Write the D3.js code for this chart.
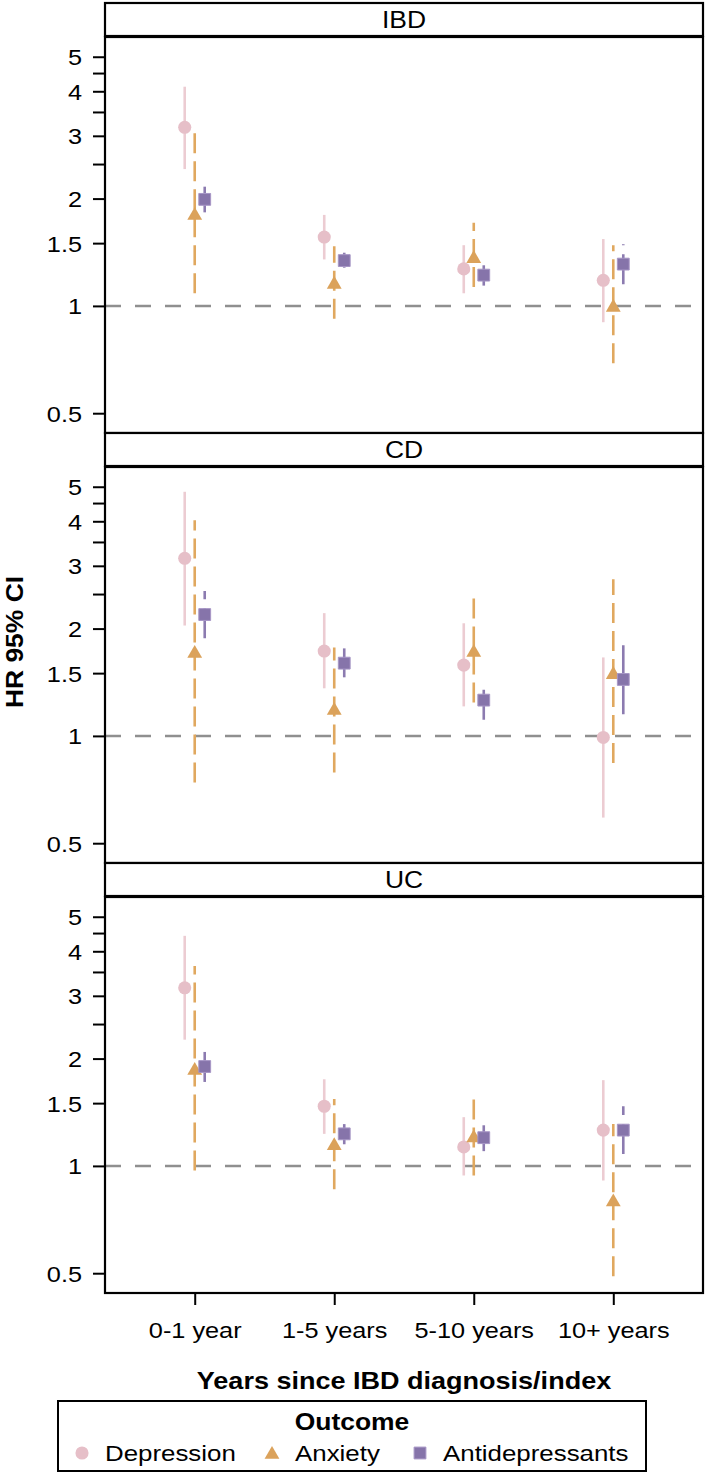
<!DOCTYPE html>
<html><head><meta charset="utf-8">
<script src="https://cdn.jsdelivr.net/npm/d3@7"></script>
<style>
body{margin:0;background:#fff;}
svg{display:block;}
text{font-family:"Liberation Sans",Arial,sans-serif;fill:#000;}
</style></head>
<body>
<svg id="chart" width="708" height="1474"></svg>
<script>
// ---- data ----
const categories = ["0-1 year","1-5 years","5-10 years","10+ years"];
const panels = ["IBD","CD","UC"];
const outcomes = ["Depression","Anxiety","Antidepressants"];
const yTickValues = [0.5,1,1.5,2,3,4,5];
const yMinorTicks = [2.5,3.5,4.5];

// IBD
const ibdDepHR = [3.17,1.56,1.27,1.18], ibdDepLo = [2.42,1.35,1.085,0.90], ibdDepHi = [4.12,1.80,1.48,1.54];
const ibdAnxHR = [1.81,1.16,1.37,1.00], ibdAnxLo = [1.085,0.92,1.13,0.69], ibdAnxHi = [3.08,1.47,1.71,1.48];
const ibdAdHR  = [1.99,1.34,1.22,1.31], ibdAdLo  = [1.83,1.28,1.14,1.15], ibdAdHi  = [2.16,1.41,1.30,1.49];
// CD
const cdDepHR = [3.15,1.73,1.58,0.99], cdDepLo = [2.04,1.36,1.21,0.59], cdDepHi = [4.84,2.21,2.07,1.66];
const cdAnxHR = [1.72,1.19,1.73,1.50], cdAnxLo = [0.74,0.79,1.24,0.84], cdAnxHi = [4.03,1.77,2.46,2.75];
const cdAdHR  = [2.19,1.60,1.26,1.44], cdAdLo  = [1.88,1.46,1.11,1.15], cdAdHi  = [2.55,1.76,1.42,1.80];
// UC
const ucDepHR = [3.16,1.47,1.13,1.26], ucDepLo = [2.26,1.23,0.94,0.91], ucDepHi = [4.42,1.75,1.37,1.74];
const ucAnxHR = [1.87,1.15,1.21,0.80], ucAnxLo = [0.97,0.86,0.94,0.49], ucAnxHi = [3.64,1.54,1.59,1.31];
const ucAdHR  = [1.90,1.23,1.20,1.26], ucAdLo  = [1.72,1.15,1.10,1.08], ucAdHi  = [2.10,1.31,1.30,1.47];

const panelData = {
  IBD: [[ibdDepHR,ibdDepLo,ibdDepHi],[ibdAnxHR,ibdAnxLo,ibdAnxHi],[ibdAdHR,ibdAdLo,ibdAdHi]],
  CD:  [[cdDepHR,cdDepLo,cdDepHi],[cdAnxHR,cdAnxLo,cdAnxHi],[cdAdHR,cdAdLo,cdAdHi]],
  UC:  [[ucDepHR,ucDepLo,ucDepHi],[ucAnxHR,ucAnxLo,ucAnxHi],[ucAdHR,ucAdLo,ucAdHi]]
};

// ---- styles ----
const SX = 1.15;
const markerFill = ["#e6bfc8","#dba25b","#8674aa"];
const lineColor  = ["#ecccd2","#e0a85f","#8c7bb0"];
const lineDash   = [null,"20,8","30,9"];
const offsets = [-10,0,10];
const symbols = [d3.symbolCircle, d3.symbolTriangle, d3.symbolSquare];
const symSizes = [135, 95, 140];

const svg = d3.select("#chart");
const left = 105, right = 703;
const stripTop0 = 3, stripH = 33, plotH = 396, panelStep = 430;

const x = d3.scalePoint().domain(categories).range([left,right]).padding(0.643);
const y = d3.scaleLog().domain([0.44,5.68]).range([plotH,0]);

function stretchText(sel, tx, ty, rot){
  sel.attr("transform", `translate(${tx},${ty})` + (rot?` rotate(${rot})`:"") + ` scale(${SX},1)`);
}

panels.forEach((p,i)=>{
  const sTop = stripTop0 + panelStep*i;
  const pTop = sTop + stripH + 1;
  const g = svg.append("g").attr("transform",`translate(0,${pTop})`);

  // reference line
  g.append("line").attr("x1",left).attr("x2",right)
    .attr("y1",y(1)).attr("y2",y(1))
    .attr("stroke","#8f8f8f").attr("stroke-width",2.5).attr("stroke-dasharray","16,14");

  // CI lines
  const data = panelData[p];
  outcomes.forEach((o,k)=>{
    const [hr,lo,hi] = data[k];
    categories.forEach((c,j)=>{
      const xx = x(c)+offsets[k];
      const ln = g.append("line").attr("x1",xx).attr("x2",xx)
        .attr("y1",y(lo[j])).attr("y2",y(hi[j]))
        .attr("stroke",lineColor[k]).attr("stroke-width",2.6);
      if(lineDash[k]) ln.attr("stroke-dasharray",lineDash[k]);
    });
  });
  // markers
  outcomes.forEach((o,k)=>{
    const [hr] = data[k];
    categories.forEach((c,j)=>{
      const xx = x(c)+offsets[k];
      g.append("path").attr("d",d3.symbol().type(symbols[k]).size(symSizes[k])())
        .attr("transform",`translate(${xx},${y(hr[j]) + (k===1?1.5:0)})`)
        .attr("fill",markerFill[k])
        .attr("stroke", k===2 ? "#a796c6" : "none").attr("stroke-width",1);
    });
  });

  // y axis major
  const ax = g.append("g").attr("transform",`translate(${left},0)`)
    .call(d3.axisLeft(y).tickValues(yTickValues).tickFormat(d=>String(d)).tickSize(12).tickPadding(11));
  ax.select(".domain").remove();
  ax.selectAll(".tick line").attr("stroke","#000").attr("stroke-width",2);
  ax.selectAll(".tick text").each(function(){
    const t = d3.select(this);
    t.attr("x",null).attr("dy",null).attr("font-size",22).attr("font-family",null)
     .attr("text-anchor","end");
    stretchText(t,-23,8);
  });
  const axm = g.append("g").attr("transform",`translate(${left},0)`)
    .call(d3.axisLeft(y).tickValues(yMinorTicks).tickFormat("").tickSize(12));
  axm.select(".domain").remove();
  axm.selectAll(".tick line").attr("stroke","#000").attr("stroke-width",2);

  // plot border
  g.append("rect").attr("x",left).attr("y",0).attr("width",right-left).attr("height",plotH)
    .attr("fill","none").attr("stroke","#000").attr("stroke-width",2.2);

  // strip
  svg.append("rect").attr("x",left).attr("y",sTop).attr("width",right-left).attr("height",stripH)
    .attr("fill","#fff").attr("stroke","#000").attr("stroke-width",2.2);
  const st = svg.append("text").attr("text-anchor","middle").attr("font-size",23).text(p);
  stretchText(st,(left+right)/2, sTop+25);

  // x axis on bottom panel
  if(i===panels.length-1){
    const xa = g.append("g").attr("transform",`translate(0,${plotH})`)
      .call(d3.axisBottom(x).tickSize(12));
    xa.select(".domain").remove();
    xa.selectAll(".tick line").attr("stroke","#000").attr("stroke-width",2);
    xa.selectAll(".tick text").each(function(){
      const t = d3.select(this);
      t.attr("y",null).attr("dy",null).attr("font-size",22).attr("font-family",null);
      stretchText(t,0,45);
    });
  }
});

// axis titles
const yt = svg.append("text").attr("text-anchor","middle").attr("font-size",23)
  .attr("font-weight","bold").text("HR 95% CI");
stretchText(yt,23,642,-90);
const xt = svg.append("text").attr("text-anchor","middle").attr("font-size",23.5)
  .attr("font-weight","bold").text("Years since IBD diagnosis/index");
stretchText(xt,(left+right)/2,1389);

// legend
const lg = svg.append("g");
lg.append("rect").attr("x",58).attr("y",1401).attr("width",588).attr("height",70)
  .attr("fill","#fff").attr("stroke","#000").attr("stroke-width",2);
const lt = lg.append("text").attr("text-anchor","middle").attr("font-size",23)
  .attr("font-weight","bold").text("Outcome");
stretchText(lt,352,1430);
const legX = [82,272,420];
outcomes.forEach((o,k)=>{
  lg.append("path").attr("d",d3.symbol().type(symbols[k]).size(symSizes[k])())
    .attr("transform",`translate(${legX[k]},${1453 + (k===1?1.5:0)})`)
    .attr("fill",markerFill[k]).attr("stroke",k===2?"#a796c6":"none");
  const tx = lg.append("text").attr("font-size",22.5).text(o);
  stretchText(tx,legX[k]+23,1461);
});
</script>
</body></html>
